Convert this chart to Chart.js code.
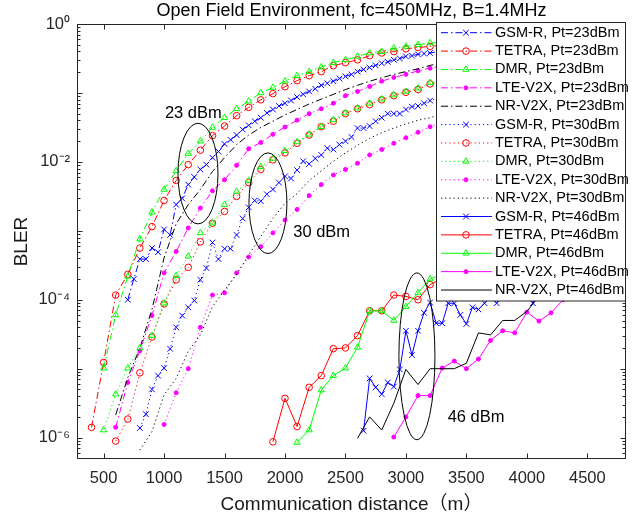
<!DOCTYPE html>
<html>
<head>
<meta charset="utf-8">
<script src="https://cdn.jsdelivr.net/npm/chart.js@4.4.1/dist/chart.umd.min.js"></script>
<style>
  html,body{margin:0;padding:0;background:#fff}
  #wrap{width:641px;height:517px}
</style>
</head>
<body>
<div id="wrap"><canvas id="c" width="641" height="517"></canvas></div>
<script>
// ===================== DATOS =====================
const chartTitle='Open Field Environment, fc=450MHz, B=1.4MHz';
const xTitle='Communication distance（m）';
const yTitle='BLER';
const xTicks=[500,1000,1500,2000,2500,3000,3500,4000,4500];
const yTickVal=[1,1e-2,1e-4,1e-6];
const yTickText=['10⁰','10⁻²','10⁻⁴','10⁻⁶'];

// --- Pt = 23 dBm ---
const gsm23X=[700,750,800,850,900,950,1000,1050,1100,1150,1200,1250,1300,1350,1400,1450,1500,1550,1600,1650,1700,1750,1800,1850,1900,1950,2000,2050,2100,2150,2200,2250,2300,2350,2400,2450,2500,2550,2600,2650,2700,2750,2800,2850,2900,2950,3000,3050,3100,3150,3200,3300,3400,3500,3600,3700,3800,3900,4000,4200,4400,4600,4800];
const gsm23Y=[1.00e-4,2.00e-4,3.89e-4,3.89e-4,5.62e-4,4.90e-4,1.05e-3,8.71e-4,2.40e-3,2.95e-3,4.68e-3,6.03e-3,7.76e-3,9.12e-3,1.15e-2,1.41e-2,1.82e-2,2.09e-2,2.45e-2,2.95e-2,3.39e-2,3.89e-2,4.37e-2,5.13e-2,5.75e-2,6.46e-2,7.08e-2,7.76e-2,8.71e-2,9.55e-2,0.105,0.115,0.129,0.138,0.148,0.162,0.174,0.186,0.204,0.219,0.234,0.251,0.269,0.282,0.302,0.316,0.339,0.347,0.363,0.372,0.380,0.407,0.427,0.447,0.468,0.490,0.513,0.525,0.550,0.575,0.603,0.631,0.646];
const tetra23X=[400,500,600,700,800,900,1000,1100,1200,1300,1400,1500,1600,1700,1800,1900,2000,2100,2200,2300,2400,2500,2600,2700,2800,2900,3000,3100,3200,3400,3600,3800,4000,4200,4400,4600,4800];
const tetra23Y=[1.41e-6,1.23e-5,1.17e-4,2.34e-4,5.62e-4,1.15e-3,2.75e-3,5.37e-3,9.12e-3,1.48e-2,2.40e-2,3.31e-2,4.68e-2,6.17e-2,7.94e-2,9.77e-2,0.123,0.151,0.178,0.204,0.248,0.275,0.302,0.347,0.380,0.398,0.437,0.457,0.473,0.513,0.550,0.589,0.617,0.646,0.676,0.692,0.708];
const dmr23X=[500,600,700,800,900,1000,1100,1200,1300,1400,1500,1600,1700,1800,1900,2000,2100,2200,2300,2400,2500,2600,2700,2800,2900,3000,3100,3200,3400,3600,3800,4000,4200,4400,4600,4800];
const dmr23Y=[1.02e-5,6.03e-5,2.19e-4,7.59e-4,1.86e-3,3.98e-3,7.41e-3,1.32e-2,2.00e-2,3.16e-2,4.37e-2,5.89e-2,7.59e-2,0.100,0.120,0.148,0.178,0.204,0.237,0.275,0.302,0.339,0.380,0.398,0.447,0.473,0.501,0.530,0.562,0.603,0.631,0.661,0.676,0.692,0.708,0.724];
const lte23X=[600,700,800,900,1000,1100,1200,1300,1400,1500,1600,1700,1800,1900,2000,2100,2200,2300,2400,2500,2600,2700,2800,2900,3000,3100,3200,3400,3600,3800,4000,4200,4400,4600,4800];
const lte23Y=[1.41e-6,6.31e-6,1.82e-5,5.89e-5,2.45e-4,5.01e-4,1.10e-3,2.14e-3,3.80e-3,5.50e-3,8.91e-3,1.55e-2,1.91e-2,2.51e-2,3.20e-2,4.03e-2,5.01e-2,5.89e-2,7.08e-2,9.12e-2,0.105,0.124,0.148,0.168,0.186,0.209,0.229,0.269,0.309,0.347,0.380,0.417,0.447,0.479,0.501];
const nr23X=[600,700,800,900,1000,1100,1200,1300,1400,1500,1600,1700,1800,1900,2000,2100,2200,2300,2400,2500,2600,2700,2800,2900,3000,3100,3200,3400,3600,3800,4000,4200,4400,4600,4800];
const nr23Y=[2.14e-6,7.41e-6,2.00e-5,7.24e-5,4.07e-4,1.26e-3,2.40e-3,3.98e-3,7.24e-3,1.15e-2,1.78e-2,2.45e-2,3.16e-2,3.89e-2,4.79e-2,5.75e-2,6.92e-2,8.13e-2,9.55e-2,0.112,0.129,0.148,0.166,0.186,0.204,0.224,0.251,0.295,0.339,0.380,0.417,0.457,0.490,0.525,0.550];

// --- Pt = 30 dBm ---
const gsm30X=[800,850,900,950,1000,1050,1100,1150,1200,1250,1300,1350,1400,1450,1500,1550,1600,1650,1700,1750,1800,1850,1900,1950,2000,2050,2100,2150,2200,2250,2300,2350,2400,2450,2500,2550,2600,2650,2700,2750,2800,2850,2900,2950,3000,3050,3100,3150,3200,3400,3600,3800,4000,4200,4400,4600,4800];
const gsm30Y=[1.38e-6,2.19e-6,5.01e-6,7.94e-6,1.02e-5,1.95e-5,3.98e-5,5.89e-5,7.76e-5,9.77e-5,1.95e-4,2.88e-4,6.76e-4,3.89e-4,5.50e-4,5.50e-4,8.71e-4,1.51e-3,2.19e-3,2.75e-3,2.69e-3,3.39e-3,3.98e-3,5.01e-3,6.17e-3,5.75e-3,7.59e-3,1.02e-2,9.33e-3,1.12e-2,1.26e-2,1.58e-2,1.51e-2,1.78e-2,2.00e-2,2.29e-2,3.09e-2,3.09e-2,3.31e-2,3.89e-2,4.37e-2,5.01e-2,5.01e-2,5.01e-2,5.75e-2,6.31e-2,6.46e-2,7.08e-2,7.76e-2,9.55e-2,0.115,0.135,0.155,0.174,0.195,0.214,0.234];
const tetra30X=[600,700,800,900,1000,1100,1200,1300,1400,1500,1600,1700,1800,1900,2000,2100,2200,2300,2400,2500,2600,2700,2800,2900,3000,3100,3200,3400,3600,3800,4000,4200,4400,4600,4800];
const tetra30Y=[8.91e-7,1.86e-6,8.71e-6,2.88e-5,8.71e-5,1.95e-4,2.95e-4,6.92e-4,1.29e-3,1.91e-3,3.16e-3,5.01e-3,7.76e-3,1.07e-2,1.35e-2,1.86e-2,2.45e-2,3.24e-2,3.89e-2,5.01e-2,5.89e-2,6.76e-2,7.94e-2,9.12e-2,0.102,0.112,0.135,0.162,0.200,0.234,0.269,0.302,0.339,0.372,0.407];
const dmr30X=[500,600,700,800,900,1000,1100,1200,1300,1400,1500,1600,1700,1800,1900,2000,2100,2200,2300,2400,2500,2600,2700,2800,2900,3000,3100,3200,3400,3600,3800,4000,4200,4400,4600,4800];
const dmr30Y=[1.29e-6,4.27e-6,1.02e-5,2.00e-5,3.02e-5,8.91e-5,2.24e-4,4.27e-4,9.33e-4,1.29e-3,2.40e-3,3.72e-3,5.37e-3,8.51e-3,1.12e-2,1.45e-2,1.95e-2,2.51e-2,3.24e-2,4.07e-2,5.13e-2,6.03e-2,7.08e-2,8.13e-2,9.33e-2,0.105,0.117,0.141,0.174,0.209,0.245,0.282,0.316,0.347,0.380,0.417];
const lte30X=[1000,1100,1200,1300,1400,1500,1600,1700,1800,1900,2000,2100,2200,2300,2400,2500,2600,2700,2800,2900,3000,3100,3200,3400,3600,3800,4000,4200,4400,4600,4800];
const lte30Y=[1.55e-6,4.47e-6,1.00e-5,3.98e-5,1.17e-4,1.26e-4,2.45e-4,4.17e-4,5.89e-4,9.33e-4,1.43e-3,2.04e-3,3.24e-3,4.68e-3,6.46e-3,7.76e-3,9.55e-3,1.26e-2,1.51e-2,1.86e-2,2.24e-2,2.69e-2,3.24e-2,4.37e-2,5.75e-2,7.24e-2,8.91e-2,0.107,0.126,0.145,0.166];
const nr30X=[800,900,1000,1100,1200,1300,1400,1500,1600,1700,1800,1900,2000,2100,2200,2300,2400,2500,2600,2700,2800,2900,3000,3100,3200,3400,3600,3800,4000,4200,4400,4600,4800];
const nr30Y=[6.61e-7,1.23e-6,4.17e-6,7.24e-6,1.78e-5,3.09e-5,7.94e-5,1.38e-4,2.34e-4,4.47e-4,8.32e-4,1.51e-3,2.51e-3,3.47e-3,5.37e-3,7.41e-3,1.02e-2,1.35e-2,1.74e-2,2.19e-2,2.66e-2,3.09e-2,3.55e-2,4.03e-2,4.37e-2,5.62e-2,7.08e-2,8.51e-2,0.102,0.120,0.138,0.155,0.174];

// --- Pt = 46 dBm ---
const gsm46X=[2650,2700,2750,2800,2850,2900,2950,3000,3050,3100,3150,3200,3250,3300,3350,3400,3450,3500,3550,3600,3650,3700,3750,3800,3900,4000,4050,4100,4200,4400,4600,4800];
const gsm46Y=[1.26e-6,7.24e-6,5.37e-6,4.27e-6,6.31e-6,5.50e-6,9.77e-6,3.55e-5,1.58e-5,3.55e-5,6.46e-5,9.12e-5,4.57e-5,4.57e-5,8.91e-5,8.91e-5,6.03e-5,4.47e-5,7.76e-5,7.24e-5,8.91e-5,1.12e-4,8.91e-5,1.20e-4,1.32e-4,1.26e-4,8.91e-5,1.58e-4,2.00e-4,3.16e-4,5.01e-4,7.94e-4];
const tetra46X=[1900,2000,2100,2200,2300,2400,2500,2600,2700,2800,2900,3000,3100,3200,3400,3600,3800,4000,4200,4400,4600,4800];
const tetra46Y=[8.71e-7,3.72e-6,1.45e-6,5.37e-6,7.94e-6,1.95e-5,2.00e-5,3.02e-5,6.92e-5,6.92e-5,1.17e-4,1.12e-4,1.00e-4,1.66e-4,2.51e-4,3.98e-4,6.31e-4,1.00e-3,1.41e-3,2.24e-3,3.16e-3,4.37e-3];
const dmr46X=[2100,2200,2300,2400,2500,2600,2700,2800,2900,3000,3100,3200,3400,3600,3800,4000,4200,4400,4600,4800];
const dmr46Y=[8.51e-7,1.29e-6,4.90e-6,7.94e-6,1.02e-5,2.04e-5,6.92e-5,6.92e-5,5.01e-5,7.94e-5,1.26e-4,2.00e-4,2.82e-4,4.47e-4,7.08e-4,1.05e-3,1.51e-3,2.19e-3,2.95e-3,3.89e-3];
const lte46X=[2900,3000,3100,3200,3300,3400,3500,3600,3700,3800,3900,4000,4100,4200,4300,4400,4600,4800];
const lte46Y=[1.02e-6,2.00e-6,4.07e-6,4.07e-6,1.02e-5,1.29e-5,1.00e-5,1.38e-5,2.57e-5,3.55e-5,3.31e-5,6.61e-5,4.90e-5,6.46e-5,1.00e-4,1.41e-4,2.51e-4,3.98e-4];
const nr46X=[2600,2700,2800,2900,3000,3100,3200,3300,3400,3500,3600,3700,3800,3900,4000,4100,4300,4500,4800];
const nr46Y=[9.77e-7,2.00e-6,1.29e-6,3.16e-6,9.77e-6,5.89e-6,1.00e-5,1.00e-5,1.00e-5,1.20e-5,3.31e-5,3.09e-5,5.01e-5,5.01e-5,6.76e-5,1.12e-4,1.78e-4,2.82e-4,5.01e-4];

// --- anotaciones (elipses y textos, en coordenadas de datos) ---
const ellX0=[1115,1702,2942], ellX1=[1446,2016,3240];
const ellYTop=[3.63e-2,1.35e-2,2.45e-4], ellYBot=[1.26e-3,4.68e-4,9.33e-7];
const noteText=['23 dBm','30 dBm','46 dBm'];
const noteX=[1007,2068,3345], noteY=[5.01e-2,9.33e-4,1.95e-6];

// ===================== ESTILOS =====================
const FONT='"Liberation Sans", Arial, Helvetica, "Noto Sans CJK SC", sans-serif';
const AX='#262626';
const DASHDOT=[7,3,1.5,3], DOT=[1.2,3], SOLID=[];
const sysName=['GSM-R','TETRA','DMR','LTE-V2X','NR-V2X'];
const sysColor=['#0000ff','#ff0000','#00ff00','#ff00ff','#000000'];
const sysMark=['crossRot','circle','triangle','circle',false];
const sysRad=[4,3.3,3.6,2,0];
const sysFill=[false,false,false,true,false];
const powers=['23','30','46'];
const powDash=[DASHDOT,DOT,SOLID];
const series=[
  [gsm23X,gsm23Y],[tetra23X,tetra23Y],[dmr23X,dmr23Y],[lte23X,lte23Y],[nr23X,nr23Y],
  [gsm30X,gsm30Y],[tetra30X,tetra30Y],[dmr30X,dmr30Y],[lte30X,lte30Y],[nr30X,nr30Y],
  [gsm46X,gsm46Y],[tetra46X,tetra46Y],[dmr46X,dmr46Y],[lte46X,lte46Y],[nr46X,nr46Y]
];

const datasets=series.map(([xs,ys],i)=>{
  const s=i%5, p=Math.floor(i/5), c=sysColor[s];
  return {
    label:`${sysName[s]}, Pt=${powers[p]}dBm`,
    data:xs.map((x,k)=>({x,y:ys[k]})),
    borderColor:c, backgroundColor:c, borderWidth:1, borderDash:powDash[p],
    pointStyle:sysMark[s]||'circle', pointRadius:sysRad[s], pointBorderWidth:1,
    pointBorderColor:c, pointBackgroundColor:sysFill[s]?c:'rgba(0,0,0,0)',
    tension:0, fill:false, order:15-i
  };
});

// ===================== PLUGIN: marco, ticks, elipses, leyenda =====================
function mark(ctx,style,r,cx,cy){
  if(!style||r<=0) return;
  const H=Chart.helpers;
  if(H&&H.drawPoint){H.drawPoint(ctx,{pointStyle:style,radius:r,rotation:0,borderWidth:1},cx,cy);return;}
  ctx.beginPath();
  if(style==='crossRot'){const d=r*0.7071;ctx.moveTo(cx-d,cy-d);ctx.lineTo(cx+d,cy+d);ctx.moveTo(cx+d,cy-d);ctx.lineTo(cx-d,cy+d);ctx.stroke();return;}
  if(style==='triangle'){ctx.moveTo(cx,cy-r);ctx.lineTo(cx+r*0.866,cy+r*0.5);ctx.lineTo(cx-r*0.866,cy+r*0.5);ctx.closePath();}
  else ctx.arc(cx,cy,r,0,Math.PI*2);
  ctx.fill();ctx.stroke();
}

const frame={
  id:'frame',
  afterDatasetsDraw(chart){
    const {ctx,chartArea:a,scales:{x,y}}=chart;
    ctx.save();
    ctx.lineWidth=1;

    // elipses
    ctx.strokeStyle='#000';
    ctx.setLineDash([]);
    for(let i=0;i<ellX0.length;i++){
      const l=x.getPixelForValue(ellX0[i]), r=x.getPixelForValue(ellX1[i]);
      const t=y.getPixelForValue(ellYTop[i]), b=y.getPixelForValue(ellYBot[i]);
      ctx.beginPath();
      ctx.ellipse((l+r)/2,(t+b)/2,(r-l)/2,(b-t)/2,0,0,Math.PI*2);
      ctx.stroke();
    }
    ctx.fillStyle='#000';
    ctx.font='16.5px '+FONT;
    ctx.textAlign='left';ctx.textBaseline='middle';
    noteText.forEach((s,i)=>ctx.fillText(s,x.getPixelForValue(noteX[i]),y.getPixelForValue(noteY[i])));

    // caja y ticks hacia dentro
    ctx.strokeStyle=AX;
    const L=Math.round(a.left)+0.5, R=Math.round(a.right)-0.5, T=Math.round(a.top)+0.5, B=Math.round(a.bottom)-0.5;
    ctx.strokeRect(L,T,R-L,B-T);
    ctx.beginPath();
    xTicks.forEach(v=>{
      const px=Math.round(x.getPixelForValue(v))+0.5;
      ctx.moveTo(px,B);ctx.lineTo(px,B-5);
      ctx.moveTo(px,T);ctx.lineTo(px,T+5);
    });
    y.ticks.forEach(t=>{
      const v=t.value, e=Math.floor(Math.log10(v)+1e-9), m=v/Math.pow(10,e), mr=Math.round(m);
      if(Math.abs(m-mr)>1e-6) return;
      const len=mr===1?5:3, py=Math.round(y.getPixelForValue(v))+0.5;
      ctx.moveTo(L,py);ctx.lineTo(L+len,py);
      ctx.moveTo(R,py);ctx.lineTo(R-len,py);
    });
    ctx.stroke();

    // leyenda (esquina superior derecha)
    const lx0=436, ly0=22, lx1=R, ly1=301, rowH=18.38, row0=32.7;
    ctx.fillStyle='#fff';
    ctx.fillRect(lx0,ly0,lx1-lx0,ly1-ly0);
    ctx.strokeStyle=AX;
    ctx.strokeRect(lx0+0.5,ly0+0.5,lx1-lx0-0.5,ly1-ly0-0.5);
    ctx.font='14.5px '+FONT;
    ctx.textBaseline='middle';
    chart.data.datasets.forEach((d,i)=>{
      const cy=row0+i*rowH;
      ctx.strokeStyle=d.borderColor;
      ctx.setLineDash(d.borderDash);
      ctx.beginPath();ctx.moveTo(441,cy);ctx.lineTo(492,cy);ctx.stroke();
      ctx.setLineDash([]);
      ctx.fillStyle=d.pointBackgroundColor;
      if(d.pointRadius>0) mark(ctx,d.pointStyle,d.pointRadius,466,cy);
      ctx.fillStyle='#000';
      ctx.fillText(d.label,495,cy);
    });
    ctx.restore();
  }
};

// ===================== GRÁFICO =====================
Chart.defaults.font.family=FONT;
Chart.defaults.color=AX;

new Chart(document.getElementById('c'),{
  type:'line',
  data:{datasets},
  options:{
    responsive:false, animation:false, events:[],
    layout:{padding:{left:0,right:15,top:0,bottom:0}},
    plugins:{
      legend:{display:false}, tooltip:{enabled:false},
      title:{display:true,fullSize:false,text:chartTitle,color:'#000',font:{size:18,weight:'normal'},padding:{top:0,bottom:2.4}}
    },
    scales:{
      x:{
        type:'linear', min:280, max:4820,
        grid:{display:false,drawTicks:false}, border:{display:false},
        afterBuildTicks:s=>{s.ticks=xTicks.map(v=>({value:v}));},
        ticks:{autoSkip:false,maxRotation:0,padding:10,font:{size:16.5},callback:v=>String(v)},
        title:{display:true,text:xTitle,color:'#1a1a1a',font:{size:19},padding:{top:0,bottom:1}},
        afterFit:s=>{s.height=58;}
      },
      y:{
        type:'logarithmic', min:4.9e-7, max:1,
        grid:{display:false,drawTicks:false}, border:{display:false},
        ticks:{autoSkip:false,padding:7,font:{size:16.5},
          callback:v=>{const k=yTickVal.findIndex(t=>Math.abs(Math.log10(v)-Math.log10(t))<1e-6);return k<0?'':yTickText[k];}},
        title:{display:true,text:yTitle,color:'#1a1a1a',font:{size:19},padding:{top:10,bottom:0}},
        afterFit:s=>{s.width=77;}
      }
    }
  },
  plugins:[frame]
});
</script>
</body>
</html>
